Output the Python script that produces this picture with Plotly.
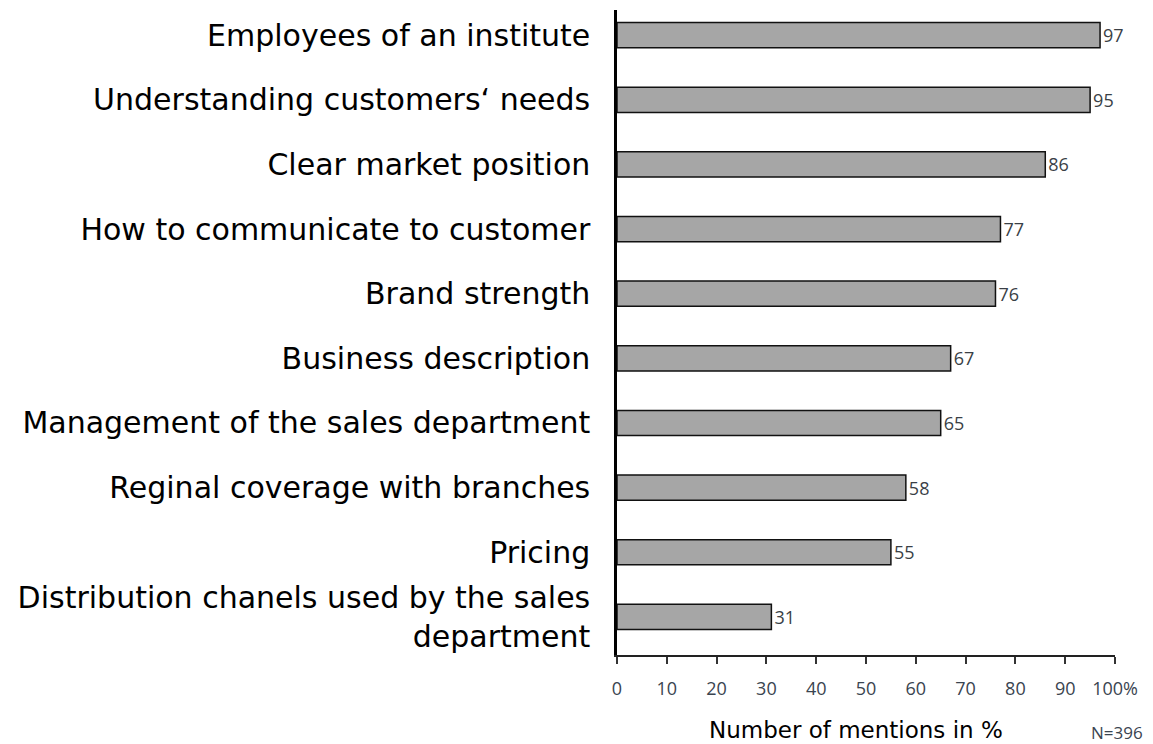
import plotly.graph_objects as go

categories = [
    "Employees of an institute",
    "Understanding customers‘ needs",
    "Clear market position",
    "How to communicate to customer",
    "Brand strength",
    "Business description",
    "Management of the sales department",
    "Reginal coverage with branches",
    "Pricing",
    "Distribution chanels used by the sales<br>department",
]
values = [97, 95, 86, 77, 76, 67, 65, 58, 55, 31]
tick_vals = [0, 10, 20, 30, 40, 50, 60, 70, 80, 90, 100]
tick_text = ["0", "10", "20", "30", "40", "50", "60", "70", "80", "90", "100%"]

small_font = "Open Sans, DejaVu Sans, sans-serif"
big_font = "DejaVu Sans, Liberation Sans, Arial, sans-serif"

fig = go.Figure()
fig.add_trace(go.Bar(
    y=categories,
    x=values,
    orientation="h",
    marker=dict(color="#a6a6a6", line=dict(color="#111111", width=1.5)),
    text=[str(v) for v in values],
    textposition="outside",
    textfont=dict(family=small_font, size=18, color="#3a3f46"),
    cliponaxis=False,
    width=0.39,
))

fig.update_layout(
    width=1153, height=744,
    margin=dict(l=617, r=38, t=10, b=89),
    plot_bgcolor="white", paper_bgcolor="white",
    showlegend=False,
    xaxis=dict(
        range=[0, 100], tickvals=tick_vals, ticktext=tick_text,
        showgrid=False, zeroline=False,
        showline=True, linecolor="#222222", linewidth=1.5,
        ticks="outside", ticklen=7, tickcolor="#333333", tickwidth=1.5,
        ticklabelstandoff=10,
        tickfont=dict(family=small_font, size=18, color="#3a4450"),
        fixedrange=True,
    ),
    yaxis=dict(
        categoryorder="array", categoryarray=categories,
        range=[9.59, -0.39],
        showgrid=False, zeroline=False,
        showline=True, linecolor="black", linewidth=2.5,
        ticks="", ticklabelstandoff=18,
        tickfont=dict(family=big_font, size=30, color="black"),
    ),
)

fig.add_annotation(
    text="Number of mentions in %", xref="paper", yref="paper",
    x=0.479, y=0, yshift=-75, xanchor="center", yanchor="middle", showarrow=False,
    font=dict(family=big_font, size=23, color="black"),
)
fig.add_annotation(
    text="N=396", xref="paper", yref="paper",
    x=1.005, y=0, yshift=-77, xanchor="center", yanchor="middle", showarrow=False,
    font=dict(family=small_font, size=17, color="#3a4450"),
)

fig.write_html("out.html")
